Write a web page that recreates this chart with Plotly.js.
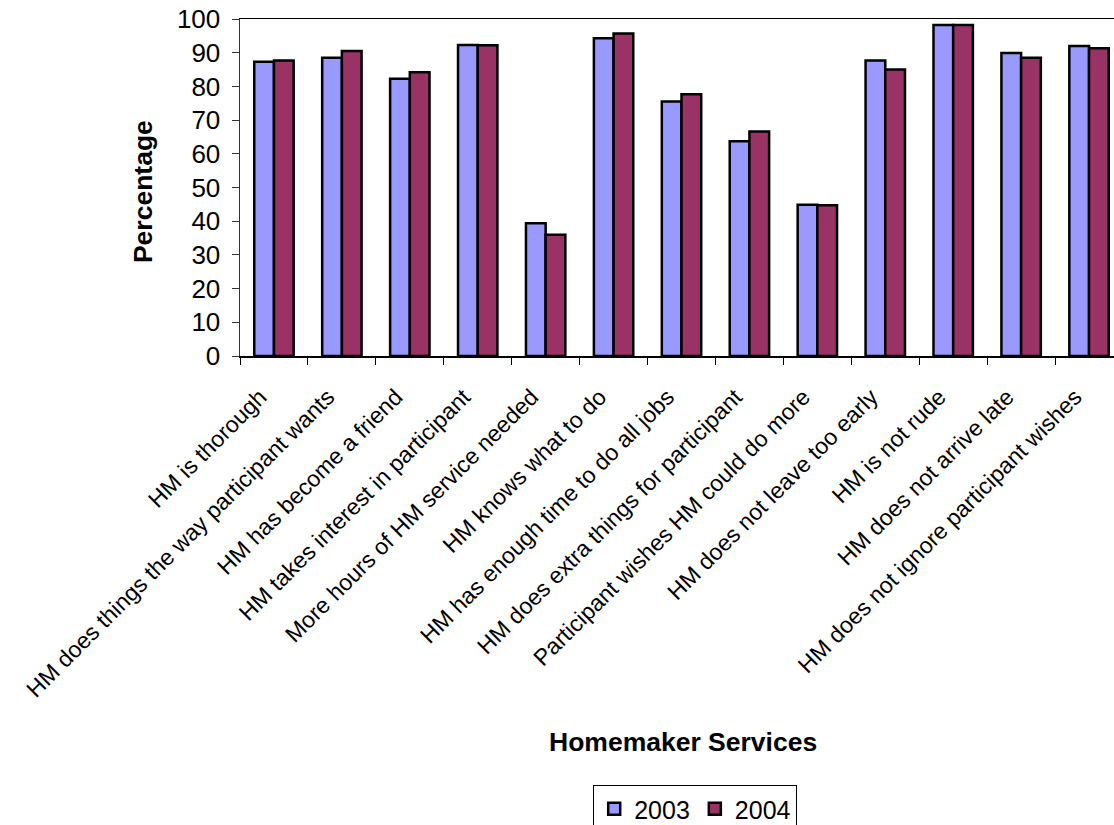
<!DOCTYPE html>
<html>
<head>
<meta charset="utf-8">
<script src="https://cdn.plot.ly/plotly-3.0.1.min.js"></script>
<style>
  html, body { margin: 0; padding: 0; background: #fff; overflow: hidden; }
  #frame { width: 1114px; height: 825px; overflow: hidden; position: relative; }
  #chart { width: 1130px; height: 845px; position: absolute; left: 0; top: 0; }
</style>
</head>
<body>
<div id="frame"><div id="chart"></div></div>
<script>
// Homemaker service satisfaction, percentage agreeing, by survey year
const categories = [
  "HM is thorough",
  "HM does things the way participant wants",
  "HM has become a friend",
  "HM takes interest in participant",
  "More hours of HM service needed",
  "HM knows what to do",
  "HM has enough time to do all jobs",
  "HM does extra things for participant",
  "Participant wishes HM could do more",
  "HM does not leave too early",
  "HM is not rude",
  "HM does not arrive late",
  "HM does not ignore participant wishes"
];
const values2003 = [87.3, 88.5, 82.3, 92.3, 39.4, 94.3, 75.5, 63.7, 44.9, 87.7, 98.2, 89.9, 92.0];
const values2004 = [87.7, 90.5, 84.2, 92.2, 36.0, 95.7, 77.7, 66.6, 44.7, 85.0, 98.2, 88.5, 91.3];
const yTicks = [0, 10, 20, 30, 40, 50, 60, 70, 80, 90, 100];

const FONT = "Liberation Sans, Arial, sans-serif";

const traces = [
  {
    type: "bar", name: "2003", x: categories, y: values2003,
    marker: { color: "#9999FF", line: { color: "#000000", width: 2.5 } }
  },
  {
    type: "bar", name: "2004", x: categories, y: values2004,
    marker: { color: "#993366", line: { color: "#000000", width: 2.5 } }
  }
];

const layout = {
  width: 1130, height: 845,
  margin: { l: 240, r: 7, t: 19, b: 489 },
  paper_bgcolor: "#ffffff", plot_bgcolor: "#ffffff",
  font: { family: FONT, size: 22, color: "#000000" },
  barmode: "group",
  bargap: 0.42, bargroupgap: 0,
  showlegend: true,
  legend: {
    orientation: "h", x: 0.40, xanchor: "left", y: -1.273, yanchor: "top",
    bordercolor: "#000000", borderwidth: 1,
    font: { family: FONT, size: 25, color: "#000000" },
    itemwidth: 30, traceorder: "normal"
  },
  xaxis: {
    type: "category", tickangle: -45, automargin: false,
    tickson: "boundaries", ticks: "outside", ticklen: 7, tickcolor: "#000000",
    ticklabelstandoff: 17, ticklabelshift: -14,
    showline: true, linecolor: "#000000", linewidth: 1.5, mirror: true,
    showgrid: false, tickfont: { family: FONT, size: 23, color: "#000000" }
  },
  yaxis: {
    range: [0, 100], tickvals: yTicks, ticktext: yTicks.map(String),
    ticks: "outside", ticklen: 7, tickcolor: "#333333", ticklabelstandoff: 6,
    showline: true, linecolor: "#333333", linewidth: 1.5, mirror: true,
    showgrid: false, zeroline: false, automargin: false,
    tickfont: { family: FONT, size: 26, color: "#000000" }
  },
  annotations: [
    {
      text: "<b>Percentage</b>", xref: "paper", yref: "paper",
      x: -0.1104, y: 0.488, xanchor: "center", yanchor: "middle",
      textangle: -90, showarrow: false,
      font: { family: FONT, size: 26.5, color: "#000000" }
    },
    {
      text: "<b>Homemaker Services</b>", xref: "paper", yref: "paper",
      x: 0.5017, y: -1.145, xanchor: "center", yanchor: "middle",
      showarrow: false,
      font: { family: FONT, size: 26.5, color: "#000000" }
    }
  ]
};

Plotly.newPlot("chart", traces, layout, { displayModeBar: false, staticPlot: true });
</script>
</body>
</html>
